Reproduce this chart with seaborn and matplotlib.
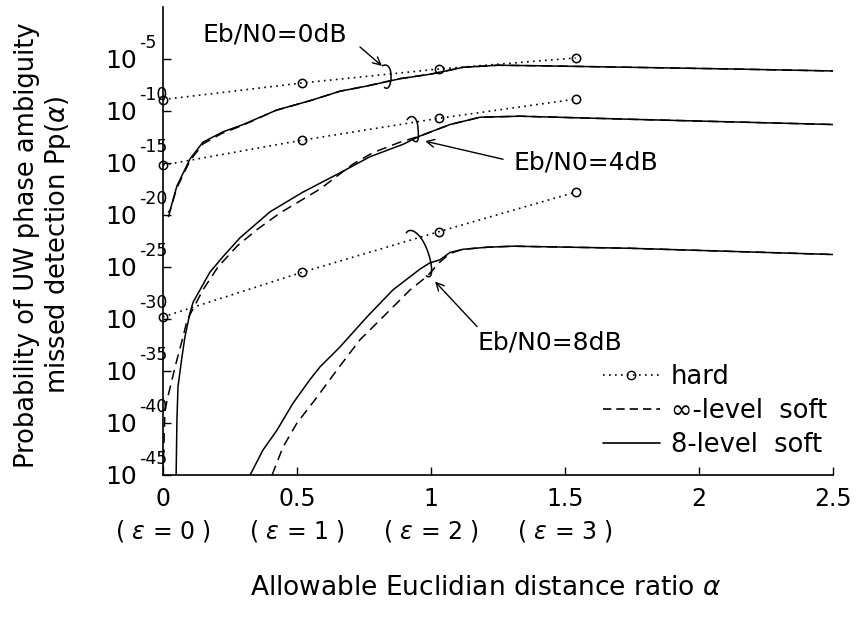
import numpy as np
import pandas as pd
import matplotlib
matplotlib.use("Agg")
import matplotlib.pyplot as plt
import matplotlib.transforms as mtransforms
import seaborn as sns
from matplotlib.path import Path
from matplotlib.patches import PathPatch
from matplotlib.lines import Line2D

# ---------------------------------------------------------------------------
# Data: alpha (allowable Euclidian distance ratio) and log10 of Pp(alpha)
# ---------------------------------------------------------------------------
snr_labels = ["Eb/N0=0dB", "Eb/N0=4dB", "Eb/N0=8dB"]

# hard decision, evaluated at epsilon = 0, 1, 2, 3
hard_alpha = [0.0, 0.52, 1.03, 1.54]
hard_0db = [-8.9, -7.3, -5.96, -4.9]
hard_4db = [-15.2, -12.8, -10.7, -8.86]
hard_8db = [-29.8, -25.5, -21.6, -17.8]

# 8-level soft decision
soft8_0db_alpha = [0.02, 0.026, 0.052, 0.101, 0.149, 0.224, 0.299, 0.425, 0.55, 0.66,
                   0.761, 0.884, 1.0, 1.12, 1.25, 1.4, 1.75, 2.1, 2.5]
soft8_0db = [-19.7, -19.6, -17.2, -14.6, -13.0, -12.0, -11.3, -9.9, -9.0, -8.1,
             -7.6, -6.9, -6.45, -5.8, -5.6, -5.65, -5.8, -5.95, -6.15]

soft8_4db_alpha = [0.049, 0.052, 0.056, 0.071, 0.082, 0.101, 0.112, 0.138, 0.175, 0.224,
                   0.287, 0.399, 0.522, 0.649, 0.772, 0.896, 0.959, 1.071, 1.183, 1.332,
                   1.75, 2.5]
soft8_4db = [-45.0, -39.7, -36.5, -33.6, -31.7, -29.4, -28.4, -27.2, -25.5, -24.0,
             -22.2, -19.7, -17.8, -16.1, -14.4, -13.2, -12.4, -11.3, -10.6, -10.5,
             -10.8, -11.3]

soft8_8db_alpha = [0.325, 0.373, 0.425, 0.485, 0.549, 0.586, 0.66, 0.761, 0.858, 0.959,
                   0.996, 1.034, 1.071, 1.119, 1.209, 1.306, 1.743, 2.5]
soft8_8db = [-45.0, -42.6, -40.7, -38.1, -35.8, -34.6, -32.7, -29.8, -27.2, -25.2,
             -24.6, -24.3, -23.6, -23.3, -23.1, -23.0, -23.2, -23.8]

# infinite-level soft decision
softinf_0db_alpha = [0.02, 0.05, 0.1, 0.15, 0.22, 0.3, 0.42, 0.55, 0.66, 0.76,
                     0.88, 1.0, 1.12, 1.25, 1.4, 1.75, 2.1, 2.5]
softinf_0db = [-20.2, -17.5, -14.8, -13.15, -12.15, -11.35, -9.95, -9.0, -8.1, -7.6,
               -6.9, -6.45, -5.8, -5.6, -5.65, -5.8, -5.95, -6.15]

softinf_4db_alpha = [0.0, 0.007, 0.015, 0.034, 0.045, 0.075, 0.09, 0.149, 0.205, 0.276,
                     0.351, 0.437, 0.586, 0.709, 0.784, 0.884, 0.96, 1.071, 1.183, 1.332,
                     1.75, 2.5]
softinf_4db = [-45.0, -39.0, -37.8, -35.8, -34.6, -31.7, -30.1, -27.2, -25.0, -23.0,
               -21.4, -19.8, -17.5, -15.1, -14.0, -13.0, -12.4, -11.3, -10.6, -10.5,
               -10.8, -11.3]

softinf_8db_alpha = [0.407, 0.448, 0.5, 0.575, 0.649, 0.735, 0.821, 0.922, 0.985, 1.034,
                     1.071, 1.119, 1.209, 1.306, 1.743, 2.5]
softinf_8db = [-45.0, -42.3, -40.0, -37.5, -34.9, -32.0, -29.8, -27.2, -25.9, -24.5,
               -23.7, -23.3, -23.1, -23.0, -23.2, -23.8]

x_ticks = [0, 0.5, 1, 1.5, 2, 2.5]
x_tick_labels = ["0\n( $\\varepsilon$ = 0 )", "0.5\n( $\\varepsilon$ = 1 )",
                 "1\n( $\\varepsilon$ = 2 )", "1.5\n( $\\varepsilon$ = 3 )", "2", "2.5"]
y_exponents = [-45, -40, -35, -30, -25, -20, -15, -10, -5]
legend_labels = ["hard", "\u221e-level  soft", "8-level  soft"]

# label placement (alpha, log10 Pp) for each Eb/N0 group
label_pos = [(0.149, -2.6), (1.306, -14.93), (1.172, -32.3)]
arrow_tail = [(0.735, -3.84), (1.269, -14.64), (1.172, -30.73)]
arrow_head = [(0.817, -5.67), (0.978, -12.9), (1.015, -26.4)]
brackets = [
    [(0.817, -5.67), (0.836, -5.39), (0.851, -5.77), (0.851, -6.64),
     (0.851, -7.51), (0.840, -8.08), (0.825, -7.70)],
    [(0.910, -10.88), (0.922, -10.30), (0.948, -10.40), (0.951, -11.55),
     (0.955, -12.52), (0.955, -13.29), (0.933, -12.81)],
    [(0.907, -21.77), (0.918, -21.10), (0.959, -21.58), (0.985, -23.31),
     (1.007, -24.76), (1.011, -26.40), (0.981, -25.82)],
]

# ---------------------------------------------------------------------------
sns.set_theme(style="ticks")
plt.rcParams["font.family"] = ["DejaVu Sans"]
plt.rcParams["mathtext.fontset"] = "dejavusans"

W, H = 858, 619
fig = plt.figure(figsize=(W / 100, H / 100), dpi=100)
fig.patch.set_facecolor("white")
ax = fig.add_axes([163 / W, 1 - 475 / H, 670 / W, 468 / H])
ax.set_facecolor("white")

ink = "black"
lw = 1.1
dotted = (0, (1, 2.6))
dashed = (0, (6.5, 4))

soft8 = [(soft8_0db_alpha, soft8_0db), (soft8_4db_alpha, soft8_4db), (soft8_8db_alpha, soft8_8db)]
softinf = [(softinf_0db_alpha, softinf_0db), (softinf_4db_alpha, softinf_4db),
           (softinf_8db_alpha, softinf_8db)]
hard = [hard_0db, hard_4db, hard_8db]

for (xa, ya) in softinf:
    sns.lineplot(x=xa, y=10.0 ** np.array(ya), ax=ax, color=ink, lw=lw,
                 linestyle=dashed, sort=False, estimator=None)
for (xa, ya) in soft8:
    sns.lineplot(x=xa, y=10.0 ** np.array(ya), ax=ax, color=ink, lw=lw,
                 linestyle="-", sort=False, estimator=None)
for ya in hard:
    sns.lineplot(x=hard_alpha, y=10.0 ** np.array(ya), ax=ax, color=ink, lw=1.2,
                 linestyle=dotted, marker="o", markersize=6,
                 markerfacecolor="none", markeredgecolor=ink, markeredgewidth=1.1,
                 sort=False, estimator=None, clip_on=False)

ax.set_yscale("log")
ax.set_xlim(0, 2.5)
ax.set_ylim(1e-45, 1.0)
ax.yaxis.set_minor_locator(matplotlib.ticker.NullLocator())

# y ticks: mantissa as the tick label, exponent as a small raised text
ax.set_yticks([10.0 ** e for e in y_exponents])
ax.set_yticklabels(["10"] * len(y_exponents), fontsize=18)
exp_trans = mtransforms.blended_transform_factory(ax.transAxes, ax.transData)
for e in y_exponents:
    ax.annotate(f"{e}".replace("-", "\u2010"), xy=((138 - 163) / 670, 10.0 ** e),
                xycoords=exp_trans, xytext=(0.5, 8), textcoords="offset points",
                ha="left", va="baseline", fontsize=12.5, color=ink, annotation_clip=False)

ax.set_xticks(x_ticks)
ax.set_xticklabels(x_tick_labels, fontsize=17)
for t in ax.get_xticklabels():
    t.set_linespacing(1.3)

ax.tick_params(axis="both", direction="in", length=6, width=1.0, color=ink, labelcolor=ink)
ax.tick_params(axis="y", pad=18.5)
ax.tick_params(axis="x", pad=9)
sns.despine(ax=ax)
for side in ("left", "bottom"):
    ax.spines[side].set_color(ink)
    ax.spines[side].set_linewidth(1.2)

ax.set_xlabel("Allowable Euclidian distance ratio $\\alpha$", fontsize=19, color=ink)
ax.xaxis.set_label_coords((486 - 163) / 670, (475 - 575) / 468)
ax.set_ylabel("Probability of UW phase ambiguity\nmissed detection Pp($\\alpha$)",
              fontsize=18.5, color=ink, linespacing=1.15)
ax.yaxis.set_label_coords((73 - 163) / 670, (475 - 245) / 468)

# Eb/N0 group labels with arrows and brackets
for lab, pos, tail, head, br in zip(snr_labels, label_pos, arrow_tail, arrow_head, brackets):
    ax.text(pos[0], 10.0 ** pos[1], lab, fontsize=18, ha="left", va="center", color=ink)
    ax.annotate("", xy=(head[0], 10.0 ** head[1]), xytext=(tail[0], 10.0 ** tail[1]),
                arrowprops=dict(arrowstyle="->", color=ink, lw=1.0,
                                shrinkA=0, shrinkB=0, mutation_scale=14))
    verts = [(bx, 10.0 ** by) for bx, by in br]
    codes = [Path.MOVETO, Path.CURVE4, Path.CURVE4, Path.CURVE4,
             Path.CURVE4, Path.CURVE4, Path.CURVE4]
    ax.add_patch(PathPatch(Path(verts, codes), fill=False, edgecolor=ink, lw=1.1))

handles = [
    Line2D([], [], color=ink, lw=1.2, linestyle=dotted, marker="o", markersize=6,
           markerfacecolor="none", markeredgecolor=ink, markeredgewidth=1.0),
    Line2D([], [], color=ink, lw=1.2, linestyle=(0, (5, 3))),
    Line2D([], [], color=ink, lw=1.2, linestyle="-"),
]
ax.legend(handles, legend_labels, loc="upper left",
          bbox_to_anchor=((603 - 163) / 670, (475 - 364) / 468),
          frameon=False, fontsize=18.5, handlelength=2.2, handletextpad=0.45,
          labelspacing=0.32, borderpad=0, borderaxespad=0, numpoints=1,
          labelcolor=ink)

fig.savefig("out.png", dpi=100, facecolor="white")
